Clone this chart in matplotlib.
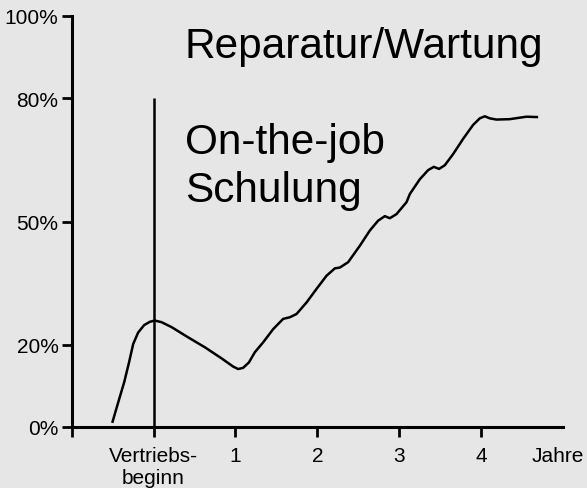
import matplotlib
matplotlib.use("Agg")
import matplotlib.pyplot as plt

plt.rcParams['font.family'] = ['Liberation Sans', 'DejaVu Sans']

# Curve values (x in years relative to Vertriebsbeginn, y in %)
curve_x = [-0.505, -0.432, -0.359, -0.30, -0.249, -0.188, -0.115, -0.045, 0.016, 0.098,
           0.22, 0.423, 0.626, 0.83, 0.972, 1.033, 1.094, 1.164, 1.237, 1.338,
           1.46, 1.582, 1.664, 1.746, 1.868, 1.99, 2.112, 2.214, 2.275, 2.376,
           2.519, 2.641, 2.742, 2.824, 2.885, 2.967, 3.089, 3.13, 3.252, 3.353,
           3.422, 3.487, 3.557, 3.658, 3.78, 3.902, 3.984, 4.045, 4.106, 4.188,
           4.35, 4.554, 4.696]
curve_y = [1.0, 6.0, 10.9, 15.7, 20.2, 23.0, 24.8, 25.6, 25.9, 25.5,
           24.3, 21.8, 19.4, 16.7, 14.7, 14.1, 14.4, 15.7, 18.2, 20.6,
           23.8, 26.3, 26.7, 27.5, 30.3, 33.6, 36.8, 38.6, 38.8, 40.1,
           44.1, 47.8, 50.2, 51.3, 50.8, 51.8, 54.7, 56.7, 60.3, 62.5,
           63.3, 62.8, 63.7, 66.4, 70.1, 73.5, 75.1, 75.6, 75.1, 74.8,
           74.9, 75.5, 75.4]

y_ticks = [0, 20, 50, 80, 100]
y_tick_labels = ['0%', '20%', '50%', '80%', '100%']
x_ticks = [-1, 0, 1, 2, 3, 4]
x_tick_labels = ['', 'Vertriebs-\nbeginn', '1', '2', '3', '4']
x_unit_label = 'Jahre'
launch_x = 0
launch_top = 80

bg = '#e6e6e6'
W, H = 587, 489
fig = plt.figure(figsize=(W / 100, H / 100), dpi=100, facecolor=bg)
left, right, bottom_px, top_px = 71.7, 563, 428, 17
ax = fig.add_axes([left / W, (H - bottom_px) / H, (right - left) / W, (bottom_px - top_px) / H])
ax.set_facecolor(bg)
ax.set_xlim(-1, 5)
ax.set_ylim(0, 100)

for s in ['top', 'right']:
    ax.spines[s].set_visible(False)
for s in ['left', 'bottom']:
    ax.spines[s].set_linewidth(2.2)
    ax.spines[s].set_color('black')

ax.set_yticks(y_ticks)
ax.set_yticklabels(y_tick_labels)
ax.set_xticks(x_ticks)
ax.set_xticklabels(x_tick_labels)
ax.tick_params(axis='both', length=7.5, width=2.0, labelsize=15, colors='black')
ax.tick_params(axis='y', pad=2)
ax.tick_params(axis='x', pad=6)

ax.annotate(x_unit_label, xy=(5, 0), xycoords=('data', 'axes fraction'),
            xytext=(-4, -13.5), textcoords='offset points', ha='center', va='top', fontsize=15)

ax.plot([launch_x, launch_x], [0, launch_top], color='black', lw=1.8, solid_capstyle='butt')
ax.plot(curve_x, curve_y, color='black', lw=1.8, solid_joinstyle='round', solid_capstyle='butt')

ax.text(0.382, 90.0, 'Reparatur/Wartung', fontsize=30.5, va='baseline', ha='left')
ax.text(0.382, 66.6, 'On-the-job', fontsize=30.5, va='baseline', ha='left')
ax.text(0.382, 55.1, 'Schulung', fontsize=30.5, va='baseline', ha='left')

fig.savefig('out.png', dpi=100, facecolor=bg)
